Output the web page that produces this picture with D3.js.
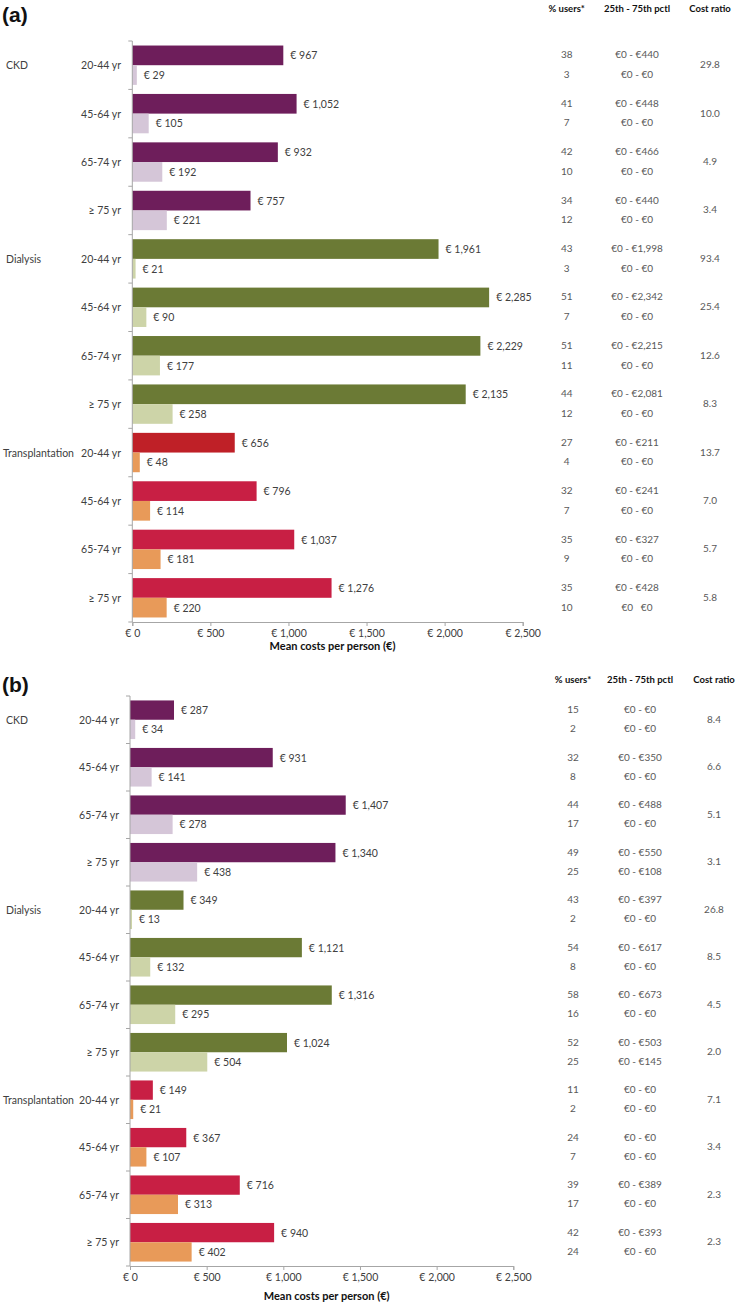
<!DOCTYPE html>
<html>
<head>
<meta charset="utf-8">
<script src="https://cdn.jsdelivr.net/npm/d3@7"></script>
<style>
  html, body { margin: 0; padding: 0; background: #fff; }
  svg { display: block; }
  text { font-family: Lato, "Open Sans", sans-serif; }
</style>
</head>
<body>
<svg id="chart" width="737" height="1305"></svg>
<script>
// ---------- DATA ----------
const ageGroups = ["20-44 yr", "45-64 yr", "65-74 yr", "\u2265 75 yr"];
const categories = ["CKD", "Dialysis", "Transplantation"];
const xTicks = [0, 500, 1000, 1500, 2000, 2500];
const headers = ["% users*", "25th - 75th pctl", "Cost ratio"];

// Panel (a)
const aPatients = [967, 1052, 932, 757, 1961, 2285, 2229, 2135, 656, 796, 1037, 1276];
const aControls = [29, 105, 192, 221, 21, 90, 177, 258, 48, 114, 181, 220];
const aUsersPatients = [38, 41, 42, 34, 43, 51, 51, 44, 27, 32, 35, 35];
const aUsersControls = [3, 7, 10, 12, 3, 7, 11, 12, 4, 7, 9, 10];
const aPctlPatients = ["€0 - €440", "€0 - €448", "€0 - €466", "€0 - €440", "€0 - €1,998", "€0 - €2,342", "€0 - €2,215", "€0 - €2,081", "€0 - €211", "€0 - €241", "€0 - €327", "€0 - €428"];
const aPctlControls = ["€0 - €0", "€0 - €0", "€0 - €0", "€0 - €0", "€0 - €0", "€0 - €0", "€0 - €0", "€0 - €0", "€0 - €0", "€0 - €0", "€0 - €0", "€0\u00a0\u00a0 €0"];
const aRatio = ["29.8", "10.0", "4.9", "3.4", "93.4", "25.4", "12.6", "8.3", "13.7", "7.0", "5.7", "5.8"];

// Panel (b)
const bPatients = [287, 931, 1407, 1340, 349, 1121, 1316, 1024, 149, 367, 716, 940];
const bControls = [34, 141, 278, 438, 13, 132, 295, 504, 21, 107, 313, 402];
const bUsersPatients = [15, 32, 44, 49, 43, 54, 58, 52, 11, 24, 39, 42];
const bUsersControls = [2, 8, 17, 25, 2, 8, 16, 25, 2, 7, 17, 24];
const bPctlPatients = ["€0 - €0", "€0 - €350", "€0 - €488", "€0 - €550", "€0 - €397", "€0 - €617", "€0 - €673", "€0 - €503", "€0 - €0", "€0 - €0", "€0 - €389", "€0 - €393"];
const bPctlControls = ["€0 - €0", "€0 - €0", "€0 - €0", "€0 - €108", "€0 - €0", "€0 - €0", "€0 - €0", "€0 - €145", "€0 - €0", "€0 - €0", "€0 - €0", "€0 - €0"];
const bRatio = ["8.4", "6.6", "5.1", "3.1", "26.8", "8.5", "4.5", "2.0", "7.1", "3.4", "2.3", "2.3"];

// ---------- STYLE ----------
const darkColors = ["#6e1e5b", "#6b7a35", "#c81f44"];
const lightColors = ["#d5c6d8", "#cdd4a8", "#e89a59"];
const firstTransplantDarkA = "#bf2027";
const axisColor = "#a6a6a6";

const svg = d3.select("#chart");
const fmt = d3.format(",");

function drawPanel(cfg) {
  const g = svg.append("g");
  const n = cfg.patients.length;
  const idx = d3.range(n);

  const x = d3.scaleLinear().domain([0, 2500]).range([cfg.x0, cfg.x1]);
  const y = d3.scaleBand().domain(idx).range([cfg.yTop, cfg.yBot]).paddingInner(0).paddingOuter(0);
  const sub = d3.scaleBand().domain(["p", "c"]).range([0, y.bandwidth()]).paddingInner(0).paddingOuter(0.23);

  // panel letter
  g.append("text").attr("x", cfg.letterX).attr("y", cfg.letterY)
    .attr("dominant-baseline", "central")
    .style("font-family", "'Liberation Sans', Arial, sans-serif")
    .style("font-weight", "bold").style("font-size", "21px").attr("fill", "#111")
    .text(cfg.letter);

  // bars
  const colorDark = i => {
    if (cfg.redFirst && i === 8) return firstTransplantDarkA;
    return darkColors[Math.floor(i / 4)];
  };
  const colorLight = i => lightColors[Math.floor(i / 4)];

  g.selectAll("rect.p").data(idx).join("rect")
    .attr("x", x(0)).attr("y", i => y(i) + sub("p"))
    .attr("width", i => x(cfg.patients[i]) - x(0)).attr("height", sub.bandwidth())
    .attr("fill", i => colorDark(i));
  g.selectAll("rect.c").data(idx).join("rect")
    .attr("x", x(0)).attr("y", i => y(i) + sub("c"))
    .attr("width", i => x(cfg.controls[i]) - x(0)).attr("height", sub.bandwidth())
    .attr("fill", i => colorLight(i));

  // value labels
  const lab = (i, v, s) => g.append("text")
    .attr("x", x(v) + 7).attr("y", y(i) + sub(s) + sub.bandwidth() / 2)
    .attr("dominant-baseline", "central").style("font-size", "10.5px").attr("fill", "#404040")
    .text("€ " + fmt(v));
  idx.forEach(i => { lab(i, cfg.patients[i], "p"); lab(i, cfg.controls[i], "c"); });

  // x axis
  const xAxis = d3.axisBottom(x).tickValues(xTicks).tickSize(4).tickSizeOuter(4)
    .tickFormat(d => "€ " + fmt(d));
  const xa = g.append("g").attr("transform", `translate(0,${cfg.yBot})`).call(xAxis);
  xa.select(".domain").attr("stroke", axisColor);
  xa.selectAll(".tick line").attr("stroke", axisColor);
  xa.selectAll(".tick text").attr("y", 8).attr("dy", "0.71em")
    .style("font-family", "Lato, sans-serif").style("font-size", "10.5px").attr("fill", "#404040");
  g.append("text").attr("x", (cfg.x0 + cfg.x1) / 2 + 5).attr("y", cfg.titleY)
    .attr("text-anchor", "middle").attr("dominant-baseline", "central")
    .style("font-size", "11px").style("font-weight", "bold").attr("fill", "#111")
    .text("Mean costs per person (€)");

  // y axis line + group separator ticks
  g.append("line").attr("x1", x(0)).attr("x2", x(0)).attr("y1", cfg.yTop).attr("y2", cfg.yBot)
    .attr("stroke", axisColor);
  d3.range(n + 1).forEach(k => {
    const yy = cfg.yTop + k * y.step();
    g.append("line").attr("x1", x(0) - 4).attr("x2", x(0)).attr("y1", yy).attr("y2", yy)
      .attr("stroke", axisColor);
  });

  // age labels and category labels
  idx.forEach(i => {
    const cy = y(i) + y.bandwidth() / 2;
    g.append("text").attr("x", cfg.ageX).attr("y", cy).attr("text-anchor", "end")
      .attr("dominant-baseline", "central").style("font-size", "10.5px").attr("fill", "#404040")
      .text(ageGroups[i % 4]);
    if (i % 4 === 0) {
      g.append("text").attr("x", categories[i / 4] === "Transplantation" ? cfg.catX - 3 : cfg.catX)
        .attr("y", cy).attr("dominant-baseline", "central")
        .style("font-size", "10.5px").attr("fill", "#404040").text(categories[i / 4]);
    }
  });

  // table headers
  headers.forEach((h, k) => {
    g.append("text").attr("x", cfg.colX[k]).attr("y", cfg.headY).attr("text-anchor", "middle")
      .attr("dominant-baseline", "central").style("font-size", "9.5px").style("font-weight", "bold")
      .attr("fill", "#111").text(h);
  });

  // table values
  const cell = (xx, yy, t) => g.append("text").attr("x", xx).attr("y", yy)
    .attr("text-anchor", "middle").attr("dominant-baseline", "central")
    .style("font-size", "10px").attr("fill", "#595959").text(t);
  idx.forEach(i => {
    const yp = y(i) + sub("p") + sub.bandwidth() / 2 - 1;
    const yc = y(i) + sub("c") + sub.bandwidth() / 2 - 1;
    cell(cfg.colX[0], yp, cfg.usersP[i]);
    cell(cfg.colX[0], yc, cfg.usersC[i]);
    cell(cfg.colX[1], yp, cfg.pctlP[i]);
    cell(cfg.colX[1], yc, cfg.pctlC[i]);
    cell(cfg.colX[2], (yp + yc) / 2, cfg.ratio[i]);
  });
}

drawPanel({
  letter: "(a)", letterX: 2, letterY: 14.5, redFirst: true,
  patients: aPatients, controls: aControls,
  usersP: aUsersPatients, usersC: aUsersControls,
  pctlP: aPctlPatients, pctlC: aPctlControls, ratio: aRatio,
  x0: 132.3, x1: 522.7, yTop: 41, yBot: 622, titleY: 645.5,
  ageX: 121, catX: 6, colX: [566.7, 637, 710], headY: 8
});

drawPanel({
  letter: "(b)", letterX: 2, letterY: 684.5, redFirst: false,
  patients: bPatients, controls: bControls,
  usersP: bUsersPatients, usersC: bUsersControls,
  pctlP: bPctlPatients, pctlC: bPctlControls, ratio: bRatio,
  x0: 130, x1: 513.3, yTop: 696, yBot: 1266, titleY: 1295.5,
  ageX: 119, catX: 6, colX: [573, 640, 714], headY: 679
});
</script>
</body>
</html>
